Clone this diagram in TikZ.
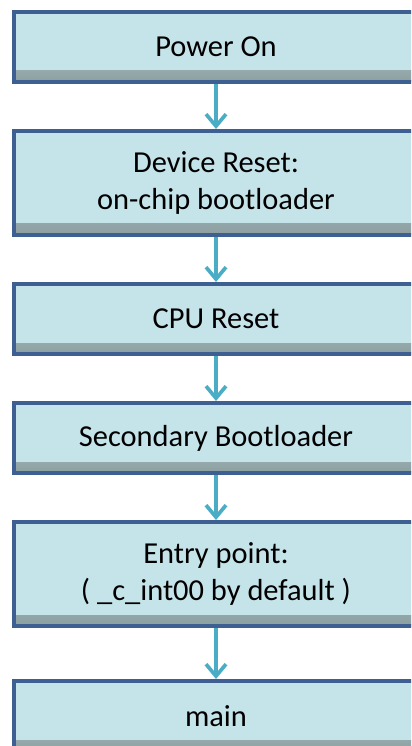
\documentclass[tikz,border=0pt]{standalone}
\usepackage{fontspec}
\setmainfont{Carlito}
\usetikzlibrary{positioning,arrows.meta}
\definecolor{boxfill}{RGB}{197,228,234}
\definecolor{boxline}{RGB}{61,95,145}
\definecolor{boxshade}{RGB}{140,158,160}
\definecolor{flowblue}{RGB}{75,172,198}

\begin{document}
\begin{tikzpicture}[node distance=1.35cm,every node/.style={font=\fontsize{26}{31.5}\selectfont}]

\useasboundingbox (0,0) rectangle (12.33,-22.38);
\clip (0,0) rectangle (12.33,-22.38);

\tikzstyle{stage}=[draw=boxline,fill=boxfill,line width=0.12cm,outer sep=0.06cm,inner sep=0pt,minimum width=12.12cm,minimum height=2.1cm,align=center,
    path picture={\shade[top color=boxfill,bottom color=boxshade] ([yshift=0.33cm]path picture bounding box.south west) rectangle (path picture bounding box.south east);}]
\tikzstyle{tallstage}=[stage,minimum height=3.12cm]
\tikzstyle{flow}=[-{Straight Barb[length=0.36cm,width=0.6cm]},flowblue,line width=0.11cm]

\node (power) [stage] at (6.48,-1.41) {Power On};
\node (devreset) [tallstage,below=of power] {Device Reset:\\ on-chip bootloader};
\node (cpureset) [stage,below=of devreset] {CPU Reset};
\node (secboot) [stage,below=of cpureset] {Secondary Bootloader};
\node (entry) [tallstage,below=of secboot] {Entry point:\\( \_c\_int00 by default )};
\node (mainfn) [stage,below=1.53cm of entry] {main};

% arrows
\foreach \from/\to in {power/devreset, devreset/cpureset, cpureset/secboot, secboot/entry, entry/mainfn} {
    \draw[flow] (\from) -- (\to);
}
\end{tikzpicture}
\end{document}
